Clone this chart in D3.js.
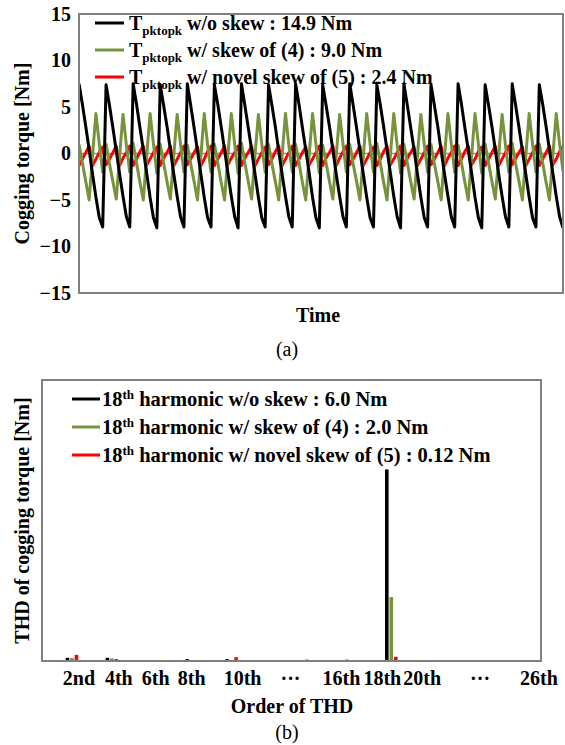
<!DOCTYPE html>
<html>
<head>
<meta charset="utf-8">
<script src="https://cdn.jsdelivr.net/npm/d3@7"></script>
<style>
  body { margin: 0; background: #fff; }
  svg text { font-family: 'Liberation Serif', 'Times New Roman', serif; font-weight: bold; fill: #000; }
</style>
</head>
<body>
<svg width="565" height="745"></svg>
<script>
// ---- (a) cogging torque waveforms, 8 samples per cogging period ----
const torqueNoSkew = [
  7.5, 5.3, 2.9, 0.4, -2.2, -4.7, -6.9, -7.9,
  7.4, 5.2, 2.8, 0.3, -2.2, -4.6, -6.8, -7.9,
  7.5, 5.3, 2.8, 0.4, -2.1, -4.7, -6.9, -8.0,
  7.4, 5.2, 2.9, 0.4, -2.2, -4.6, -6.8, -7.9,
  7.5, 5.2, 2.8, 0.3, -2.2, -4.7, -6.9, -7.9,
  7.4, 5.3, 2.9, 0.4, -2.1, -4.6, -6.8, -8.0,
  7.5, 5.2, 2.8, 0.4, -2.2, -4.7, -6.9, -7.9,
  7.4, 5.2, 2.9, 0.3, -2.2, -4.6, -6.8, -7.9,
  7.5, 5.3, 2.8, 0.4, -2.1, -4.7, -6.9, -8.0,
  7.4, 5.2, 2.9, 0.4, -2.2, -4.6, -6.8, -7.9,
  7.5, 5.2, 2.8, 0.3, -2.2, -4.7, -6.9, -7.9,
  7.4, 5.3, 2.9, 0.4, -2.1, -4.6, -6.8, -8.0,
  7.5, 5.2, 2.8, 0.4, -2.2, -4.7, -6.9, -7.9,
  7.4, 5.2, 2.9, 0.3, -2.2, -4.6, -6.8, -7.9,
  7.5, 5.3, 2.8, 0.4, -2.1, -4.7, -6.9, -8.0,
  7.4, 5.2, 2.9, 0.4, -2.2, -4.6, -6.8, -7.9,
  7.5, 5.2, 2.8, 0.3, -2.2, -4.7, -6.9, -7.9,
  7.4, 5.3, 2.9, 0.4, -2.1, -4.6, -6.8, -8.0
]
const torqueSkew4 = [
  1.0, -1.0, -3.0, -5.0, -0.2, 4.3, 1.0, -2.0,
  1.0, -1.1, -3.0, -4.9, -0.3, 4.2, 0.9, -2.0,
  1.1, -1.0, -3.1, -5.0, -0.2, 4.3, 1.0, -2.1,
  1.0, -1.0, -3.0, -4.9, -0.2, 4.2, 1.0, -2.0,
  0.9, -1.1, -3.0, -5.0, -0.3, 4.3, 0.9, -2.0,
  1.0, -1.0, -3.1, -5.0, -0.2, 4.3, 1.0, -2.1,
  1.1, -1.0, -3.0, -4.9, -0.2, 4.2, 1.0, -2.0,
  1.0, -1.1, -3.0, -5.0, -0.3, 4.3, 0.9, -2.0,
  1.0, -1.0, -3.1, -5.0, -0.2, 4.3, 1.0, -2.1,
  0.9, -1.0, -3.0, -4.9, -0.2, 4.2, 1.0, -2.0,
  1.0, -1.1, -3.0, -5.0, -0.3, 4.3, 1.0, -2.0,
  1.1, -1.0, -3.1, -5.0, -0.2, 4.3, 0.9, -2.1,
  1.0, -1.0, -3.0, -4.9, -0.2, 4.2, 1.0, -2.0,
  1.0, -1.1, -3.0, -5.0, -0.3, 4.3, 1.0, -2.0,
  0.9, -1.0, -3.1, -5.0, -0.2, 4.3, 1.0, -2.1,
  1.0, -1.0, -3.0, -4.9, -0.2, 4.2, 0.9, -2.0,
  1.1, -1.1, -3.0, -5.0, -0.3, 4.3, 1.0, -2.0,
  1.0, -1.0, -3.1, -5.0, -0.2, 4.3, 1.0, -1.9
]
const torqueSkew5 = [
  -1.3, -0.6, 0.1, 0.8, -1.3, -0.6, 0.1, 0.7,
  -1.2, -0.6, 0.1, 0.8, -1.3, -0.5, 0.1, 0.8,
  -1.3, -0.6, 0.2, 0.8, -1.2, -0.6, 0.1, 0.7,
  -1.3, -0.5, 0.1, 0.8, -1.3, -0.6, 0.1, 0.8,
  -1.2, -0.6, 0.1, 0.7, -1.3, -0.6, 0.2, 0.8,
  -1.3, -0.6, 0.1, 0.8, -1.2, -0.5, 0.1, 0.8,
  -1.3, -0.5, 0.1, 0.8, -1.3, -0.6, 0.1, 0.7,
  -1.2, -0.6, 0.2, 0.8, -1.3, -0.6, 0.1, 0.8,
  -1.3, -0.6, 0.1, 0.7, -1.2, -0.6, 0.1, 0.8,
  -1.3, -0.5, 0.1, 0.8, -1.3, -0.5, 0.2, 0.8,
  -1.2, -0.6, 0.1, 0.8, -1.3, -0.6, 0.1, 0.7,
  -1.3, -0.6, 0.2, 0.8, -1.2, -0.6, 0.1, 0.8,
  -1.3, -0.5, 0.1, 0.7, -1.3, -0.6, 0.1, 0.8,
  -1.2, -0.6, 0.1, 0.8, -1.3, -0.5, 0.1, 0.8,
  -1.3, -0.6, 0.2, 0.8, -1.2, -0.6, 0.2, 0.7,
  -1.3, -0.6, 0.1, 0.8, -1.3, -0.6, 0.1, 0.8,
  -1.2, -0.5, 0.1, 0.7, -1.3, -0.6, 0.1, 0.8,
  -1.3, -0.6, 0.1, 0.8, -1.2, -0.6, 0.2, 0.8
]
const torqueTicks = [-15, -10, -5, 0, 5, 10, 15]

// ---- (b) harmonic spectrum, orders 1..25 ----
const orders = [1, 2, 3, 4, 5, 6, 7, 8, 9, 10, 11, 12, 13, 14, 15, 16, 17, 18, 19, 20, 21, 22, 23, 24, 25]
const thdNoSkew = [0, 0.10, 0, 0.10, 0, 0, 0, 0.06, 0, 0.06, 0, 0, 0, 0.04, 0, 0.04, 0, 6.0, 0, 0, 0, 0, 0, 0, 0]
const thdSkew4 = [0, 0.09, 0, 0.08, 0, 0, 0, 0.01, 0, 0.02, 0, 0, 0, 0, 0, 0, 0, 2.0, 0, 0, 0, 0, 0, 0, 0]
const thdSkew5 = [0, 0.19, 0, 0.06, 0, 0, 0, 0.03, 0, 0.12, 0, 0, 0, 0, 0, 0, 0, 0.13, 0, 0, 0, 0, 0, 0, 0]
const thdTickLabels = ['2nd', '4th', '6th', '8th', '10th', '···', '16th', '18th', '20th', '···', '26th']
const thdTickAt = [2.35, 4.35, 6.2, 8.0, 10.55, 12.95, 15.5, 17.55, 19.55, 22.45, 25.4]

const colors = { black: '#000000', green: '#77933c', red: '#ff0000' }
const frame = '#7f7f7f'

const svg = d3.select('svg')

// ================= (a) =================
const a = { left: 79, right: 563, top: 14, bottom: 293 }

const xTime = d3.scaleLinear()
  .domain([0, torqueNoSkew.length - 1])
  .range([a.left, a.right])

const yTorque = d3.scaleLinear()
  .domain([-15, 15])
  .range([a.bottom, a.top])

svg.append('clipPath').attr('id', 'clipA')
  .append('rect')
  .attr('x', a.left).attr('y', a.top)
  .attr('width', a.right - a.left).attr('height', a.bottom - a.top)

const yAxisA = svg.append('g')
  .attr('transform', `translate(${a.left}, 0)`)
  .call(d3.axisLeft(yTorque).tickValues(torqueTicks).tickSize(0).tickPadding(8))
yAxisA.select('.domain').remove()
yAxisA.selectAll('text')
  .style('font-size', '20px')

// zero line
svg.append('line')
  .attr('x1', a.left).attr('x2', a.right)
  .attr('y1', yTorque(0)).attr('y2', yTorque(0))
  .attr('stroke', '#8c8c8c')
  .attr('stroke-width', 1.5)

const torqueLine = d3.line()
  .x((d, i) => xTime(i))
  .y(d => yTorque(d))

const seriesA = [
  { values: torqueSkew5, color: colors.red },
  { values: torqueSkew4, color: colors.green },
  { values: torqueNoSkew, color: colors.black }
]

svg.append('g')
  .attr('clip-path', 'url(#clipA)')
  .selectAll('path')
  .data(seriesA)
  .enter().append('path')
  .attr('d', d => torqueLine(d.values))
  .attr('fill', 'none')
  .attr('stroke', d => d.color)
  .attr('stroke-width', 3)
  .attr('stroke-linejoin', 'round')

svg.append('rect')
  .attr('x', a.left).attr('y', a.top)
  .attr('width', a.right - a.left).attr('height', a.bottom - a.top)
  .attr('fill', 'none')
  .attr('stroke', frame)
  .attr('stroke-width', 2)

// legend (a)
const legendA = [
  { color: colors.black, rest: ' w/o skew : 14.9 Nm' },
  { color: colors.green, rest: ' w/ skew of (4) : 9.0 Nm' },
  { color: colors.red, rest: ' w/ novel skew of (5) : 2.4 Nm' }
]
const legA = svg.append('g')
  .selectAll('g')
  .data(legendA)
  .enter().append('g')
  .attr('transform', (d, i) => `translate(95, ${23 + i * 27})`)
legA.append('line')
  .attr('x1', 0).attr('x2', 29)
  .attr('stroke', d => d.color)
  .attr('stroke-width', 3)
const legAText = legA.append('text')
  .attr('x', 34)
  .attr('dy', '0.35em')
  .style('font-size', '20px')
legAText.append('tspan').text('T')
legAText.append('tspan')
  .attr('dy', 5)
  .style('font-size', '13px')
  .text('pktopk')
legAText.append('tspan')
  .attr('dy', -5)
  .text(d => d.rest)

svg.append('text')
  .attr('transform', `translate(22, ${(a.top + a.bottom) / 2}) rotate(-90)`)
  .attr('text-anchor', 'middle')
  .attr('dy', '0.35em')
  .style('font-size', '20px')
  .text('Cogging torque [Nm]')

svg.append('text')
  .attr('x', 318).attr('y', 322)
  .attr('text-anchor', 'middle')
  .style('font-size', '20px')
  .text('Time')

svg.append('text')
  .attr('x', 287).attr('y', 356)
  .attr('text-anchor', 'middle')
  .style('font-size', '20px')
  .style('font-weight', 'normal')
  .text('(a)')

// ================= (b) =================
const b = { left: 42, right: 541, top: 380, bottom: 661 }

const xOrder = d3.scaleBand()
  .domain(orders)
  .range([b.left, b.right])

const xOrderLinear = d3.scaleLinear()
  .domain([0.5, 25.5])
  .range([b.left, b.right])

const seriesB = [
  { key: 'noSkew', values: thdNoSkew, color: colors.black },
  { key: 'skew4', values: thdSkew4, color: colors.green },
  { key: 'skew5', values: thdSkew5, color: colors.red }
]

const xSeries = d3.scaleBand()
  .domain(seriesB.map(s => s.key))
  .range([0, xOrder.bandwidth()])
  .paddingInner(0.2)
  .paddingOuter(0.82)

const yThd = d3.scaleLinear()
  .domain([0, 8.8])
  .range([b.bottom, b.top])

seriesB.forEach(s => {
  svg.append('g')
    .selectAll('rect')
    .data(orders.map((o, i) => ({ order: o, value: s.values[i] })).filter(d => d.value > 0))
    .enter().append('rect')
    .attr('x', d => xOrder(d.order) + xSeries(s.key))
    .attr('y', d => yThd(d.value))
    .attr('width', xSeries.bandwidth())
    .attr('height', d => yThd(0) - yThd(d.value))
    .attr('fill', s.color)
})

svg.append('rect')
  .attr('x', b.left).attr('y', b.top)
  .attr('width', b.right - b.left).attr('height', b.bottom - b.top)
  .attr('fill', 'none')
  .attr('stroke', frame)
  .attr('stroke-width', 2)

svg.append('g')
  .selectAll('text')
  .data(thdTickLabels)
  .enter().append('text')
  .attr('x', (d, i) => xOrderLinear(thdTickAt[i]))
  .attr('y', b.bottom + 17)
  .attr('dy', '0.35em')
  .attr('text-anchor', 'middle')
  .style('font-size', '20px')
  .text(d => d)

// legend (b)
const legendB = [
  { color: colors.black, rest: ' harmonic w/o skew : 6.0 Nm' },
  { color: colors.green, rest: ' harmonic w/ skew of (4) : 2.0 Nm' },
  { color: colors.red, rest: ' harmonic w/ novel skew of (5) : 0.12 Nm' }
]
const legB = svg.append('g')
  .selectAll('g')
  .data(legendB)
  .enter().append('g')
  .attr('transform', (d, i) => `translate(72, ${399 + i * 28})`)
legB.append('line')
  .attr('x1', 0).attr('x2', 28)
  .attr('stroke', d => d.color)
  .attr('stroke-width', 3)
const legBText = legB.append('text')
  .attr('x', 30)
  .attr('dy', '0.35em')
  .style('font-size', '20.5px')
legBText.append('tspan').text('18')
legBText.append('tspan')
  .attr('dy', -7)
  .style('font-size', '13px')
  .text('th')
legBText.append('tspan')
  .attr('dy', 7)
  .text(d => d.rest)

svg.append('text')
  .attr('transform', `translate(22, ${(b.top + b.bottom) / 2}) rotate(-90)`)
  .attr('text-anchor', 'middle')
  .attr('dy', '0.35em')
  .style('font-size', '20px')
  .text('THD of cogging torque [Nm]')

svg.append('text')
  .attr('x', 292).attr('y', 713)
  .attr('text-anchor', 'middle')
  .style('font-size', '20px')
  .text('Order of THD')

svg.append('text')
  .attr('x', 287).attr('y', 739)
  .attr('text-anchor', 'middle')
  .style('font-size', '20px')
  .style('font-weight', 'normal')
  .text('(b)')
</script>
</body>
</html>
